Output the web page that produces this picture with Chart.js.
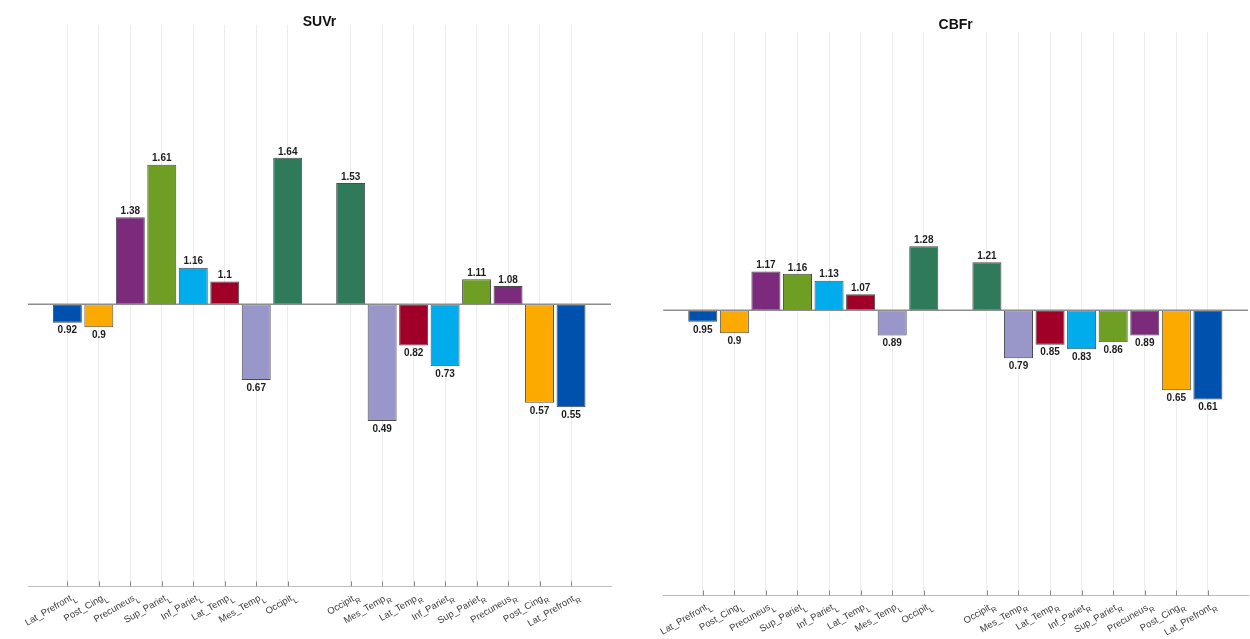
<!DOCTYPE html>
<html lang="en">
<head>
<meta charset="UTF-8">
<title>SUVr / CBFr</title>
<script src="https://cdn.jsdelivr.net/npm/chart.js"></script>
<style>
  body { margin: 0; background: #fff; }
  #wrap { position: relative; width: 1250px; height: 639px; }
  #suvrBox { position: absolute; left: 0; top: 0; width: 620px; height: 639px; }
  #cbfrBox { position: absolute; left: 620px; top: 0; width: 630px; height: 639px; }
</style>
</head>
<body>
<div id="wrap">
  <div id="suvrBox"><canvas id="suvrChart" width="620" height="639"></canvas></div>
  <div id="cbfrBox"><canvas id="cbfrChart" width="630" height="639"></canvas></div>
</div>
<script>
// regions, left hemisphere then right hemisphere (mirrored order)
const regionsLeft = ['Lat_Prefront', 'Post_Cing', 'Precuneus', 'Sup_Pariet', 'Inf_Pariet', 'Lat_Temp', 'Mes_Temp', 'Occipit'];
const regionsRight = ['Occipit', 'Mes_Temp', 'Lat_Temp', 'Inf_Pariet', 'Sup_Pariet', 'Precuneus', 'Post_Cing', 'Lat_Prefront'];

const suvrLeft = [0.92, 0.9, 1.38, 1.61, 1.16, 1.1, 0.67, 1.64];
const suvrRight = [1.53, 0.49, 0.82, 0.73, 1.11, 1.08, 0.57, 0.55];
const cbfrLeft = [0.95, 0.9, 1.17, 1.16, 1.13, 1.07, 0.89, 1.28];
const cbfrRight = [1.21, 0.79, 0.85, 0.83, 0.86, 0.89, 0.65, 0.61];

const regionColors = {
  Lat_Prefront: '#0050ae',
  Post_Cing: '#fdaa00',
  Precuneus: '#7b2a7c',
  Sup_Pariet: '#6e9e24',
  Inf_Pariet: '#00acec',
  Lat_Temp: '#a00028',
  Mes_Temp: '#9996ca',
  Occipit: '#2e7a5b'
};

const BASE = 1;
const FONT = '"Liberation Sans", Arial, sans-serif';

// one slot left empty between the hemispheres
function buildCategories() {
  const cats = [];
  regionsLeft.forEach((r, i) => cats.push({ name: r, side: 'L', pos: i }));
  regionsRight.forEach((r, i) => cats.push({ name: r, side: 'R', pos: i + regionsLeft.length + 1 }));
  return cats;
}

const panelText = {
  id: 'panelText',
  afterDraw(chart, args, opts) {
    const { ctx, chartArea, scales } = chart;
    const xs = scales.x, ys = scales.y;
    const cats = opts.categories;
    ctx.save();

    // reference line at 1
    const yb = ys.getPixelForValue(BASE);
    ctx.strokeStyle = '#8e8e8e';
    ctx.lineWidth = 1.5;
    ctx.beginPath();
    ctx.moveTo(chartArea.left, yb);
    ctx.lineTo(chartArea.right, yb);
    ctx.stroke();

    // small inward tick marks
    ctx.strokeStyle = '#8a8a8a';
    ctx.lineWidth = 1;
    xs.ticks.forEach(t => {
      const px = Math.round(xs.getPixelForValue(t.value)) + 0.5;
      ctx.beginPath();
      ctx.moveTo(px, chartArea.bottom);
      ctx.lineTo(px, chartArea.bottom - 5);
      ctx.stroke();
    });

    // value labels
    const meta = chart.getDatasetMeta(0);
    const data = chart.data.datasets[0].data;
    ctx.font = 'bold 10px ' + FONT;
    ctx.fillStyle = '#1e1e1e';
    ctx.textAlign = 'center';
    meta.data.forEach((bar, i) => {
      const v = data[i].y[1];
      const top = Math.min(bar.y, bar.base), bottom = Math.max(bar.y, bar.base);
      if (v >= BASE) {
        ctx.textBaseline = 'bottom';
        ctx.fillText(String(v), bar.x, top - 1);
      } else {
        ctx.textBaseline = 'top';
        ctx.fillText(String(v), bar.x, bottom + 3);
      }
    });

    // rotated tick labels with subscripts
    const ang = -30 * Math.PI / 180;
    ctx.fillStyle = '#3a3a3a';
    cats.forEach(c => {
      const px = xs.getPixelForValue(c.pos);
      ctx.save();
      ctx.translate(px + 5, chartArea.bottom + 5);
      ctx.rotate(ang);
      ctx.textAlign = 'right';
      ctx.textBaseline = 'top';
      ctx.font = '7.5px ' + FONT;
      const sw = ctx.measureText(c.side).width;
      ctx.fillText(c.side, 0, 6);
      ctx.font = '9.5px ' + FONT;
      ctx.fillText(c.name, -sw, 0);
      ctx.restore();
    });

    // panel title
    ctx.font = 'bold 14px ' + FONT;
    ctx.fillStyle = '#111';
    ctx.textAlign = 'center';
    ctx.textBaseline = 'middle';
    ctx.fillText(opts.title, (chartArea.left + chartArea.right) / 2, opts.titleY);
    ctx.restore();
  }
};

function makePanel(canvasId, title, titleY, leftVals, rightVals, yMin, yMax, padding) {
  const cats = buildCategories();
  const values = leftVals.concat(rightVals);
  const ticksAt = cats.map(c => c.pos);
  const ctx = document.getElementById(canvasId).getContext('2d');
  return new Chart(ctx, {
    type: 'bar',
    data: {
      datasets: [{
        label: title,
        data: cats.map((c, i) => ({ x: c.pos, y: [BASE, values[i]] })),
        backgroundColor: cats.map(c => regionColors[c.name]),
        borderColor: 'rgba(45,45,45,0.85)',
        borderWidth: 1,
        borderSkipped: false,
        categoryPercentage: 1,
        barPercentage: 0.92
      }]
    },
    options: {
      responsive: false,
      animation: false,
      layout: { padding: padding },
      plugins: {
        legend: { display: false },
        tooltip: { enabled: false },
        title: { display: false },
        panelText: { categories: cats, title: title, titleY: titleY }
      },
      scales: {
        x: {
          type: 'linear',
          offset: false,
          min: -1.25,
          max: 17.27,
          afterBuildTicks: axis => { axis.ticks = ticksAt.map(v => ({ value: v })); },
          ticks: { display: false },
          grid: { offset: false, color: '#ececec', lineWidth: 1, drawTicks: false },
          border: { display: true, color: '#bdbdbd', width: 1 }
        },
        y: {
          display: false,
          min: yMin,
          max: yMax
        }
      }
    },
    plugins: [panelText]
  });
}

makePanel('suvrChart', 'SUVr', 22, suvrLeft, suvrRight, -0.232, 2.22,
  { left: 28, right: 9, top: 25, bottom: 52.6 });
makePanel('cbfrChart', 'CBFr', 25, cbfrLeft, cbfrRight, -0.247, 2.219,
  { left: 43.3, right: 2, top: 31.7, bottom: 43.6 });
</script>
</body>
</html>
